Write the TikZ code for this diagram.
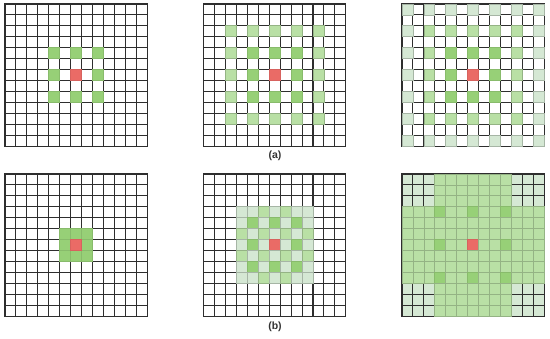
\documentclass[tikz,border=0pt]{standalone}
\usepackage{fontspec}
\setsansfont{Liberation Sans}
\definecolor{cred}{HTML}{EA6B66}
\definecolor{cdark}{HTML}{97D077}
\definecolor{cmid}{HTML}{B9E0A5}
\definecolor{clight}{HTML}{D5E8D4}
\tikzset{
  gl/.style={draw=black!82, line width=1.05pt, line cap=rect},
  crd/.style={fill=cred, draw=cred!92!black, line width=0.8pt},
  cdk/.style={fill=cdark, draw=cdark!90!black, line width=0.8pt},
  cmd/.style={fill=cmid, draw=cmid!80!black, line width=0.8pt},
  cvl/.style={fill=clight, draw=clight!78!black, line width=0.8pt},
  cvlu/.style={fill=clight},
  lab/.style={font=\sffamily\bfseries\fontsize{10.5}{12}\selectfont, text=black!80, inner sep=0pt}
}
\def\cs{10.95}
\newcommand\cellat[3]{\path[#3] ({#2*\cs},{#1*\cs}) rectangle ({(#2+1)*\cs},{(#1+1)*\cs});}
\newcommand\gridlines{%
  \foreach \i in {0,...,13}{%
    \draw[gl] ({\i*\cs},0) -- ({\i*\cs},{13*\cs});
    \draw[gl] (0,{\i*\cs}) -- ({13*\cs},{\i*\cs});
  }}
\begin{document}
\begin{tikzpicture}[x=1pt,y=-1pt]
\useasboundingbox (0,0) rectangle (550,339);
\fill[white] (0,0) rectangle (550,339);

% ---------- top 1 ----------
\begin{scope}[shift={(5,4)}]
  \gridlines
  \foreach \r in {4,6,8} \foreach \c in {4,6,8} {\cellat{\r}{\c}{cdk}}
  \cellat{6}{6}{crd}
\end{scope}

% ---------- top 2 ----------
\begin{scope}[shift={(203.5,4)}]
  \gridlines
  \foreach \r in {2,4,...,10} \foreach \c in {2,4,...,10} {%
    \pgfmathtruncatemacro\m{max(abs(\r-6),abs(\c-6))}%
    \ifnum\m=4 \cellat{\r}{\c}{cmd}\fi
    \ifnum\m=2 \cellat{\r}{\c}{cdk}\fi
    \ifnum\m=0 \cellat{\r}{\c}{crd}\fi
  }
\end{scope}

% ---------- top 3 ----------
\begin{scope}[shift={(402,4)}]
  \gridlines
  \foreach \r in {0,2,...,12} \foreach \c in {0,2,...,12} {%
    \pgfmathtruncatemacro\m{max(abs(\r-6),abs(\c-6))}%
    \ifnum\m=6 \cellat{\r}{\c}{cvl}\fi
    \ifnum\m=4 \cellat{\r}{\c}{cmd}\fi
    \ifnum\m=2 \cellat{\r}{\c}{cdk}\fi
    \ifnum\m=0 \cellat{\r}{\c}{crd}\fi
  }
\end{scope}

\node[lab] (la) at (275,155.5) {(a)};

% ---------- bottom 1 ----------
\begin{scope}[shift={(5,174)}]
  \gridlines
  \foreach \r in {5,6,7} \foreach \c in {5,6,7} {\cellat{\r}{\c}{cdk}}
  \cellat{6}{6}{crd}
\end{scope}

% ---------- bottom 2 ----------
\begin{scope}[shift={(203.5,174)}]
  \gridlines
  \foreach \r in {3,...,9} \foreach \c in {3,...,9} {%
    \pgfmathtruncatemacro\a{abs(\r-6)}%
    \pgfmathtruncatemacro\b{abs(\c-6)}%
    \pgfmathtruncatemacro\pa{mod(\a,2)}%
    \pgfmathtruncatemacro\pb{mod(\b,2)}%
    \pgfmathtruncatemacro\t{(\a==0 && \b==0) ? 4 : ((\pa==0 && \pb==0) ? 3 : ((\pa==1 && \pb==1 && \a+\b<6) ? 2 : 1))}%
    \ifcase\t\or\cellat{\r}{\c}{cvl}\or\cellat{\r}{\c}{cmd}\or\cellat{\r}{\c}{cdk}\or\cellat{\r}{\c}{crd}\fi
  }
\end{scope}

% ---------- bottom 3 ----------
\begin{scope}[shift={(402,174)}]
  \foreach \r in {0,1,2,10,11,12} \foreach \c in {0,1,2,10,11,12} {\cellat{\r}{\c}{cvlu}}
  \gridlines
  \foreach \r in {0,...,12} \foreach \c in {0,...,12} {%
    \pgfmathtruncatemacro\a{abs(\r-6)}%
    \pgfmathtruncatemacro\b{abs(\c-6)}%
    \pgfmathtruncatemacro\t{(\a>3 && \b>3) ? 0 : ((\a==0 && \b==0) ? 3 : (((\a==0 || \a==3) && (\b==0 || \b==3)) ? 2 : 1))}%
    \ifcase\t\or\cellat{\r}{\c}{cmd}\or\cellat{\r}{\c}{cdk}\or\cellat{\r}{\c}{crd}\fi
  }
\end{scope}

\node[lab] (lb) at (275,327) {(b)};
\end{tikzpicture}
\end{document}
